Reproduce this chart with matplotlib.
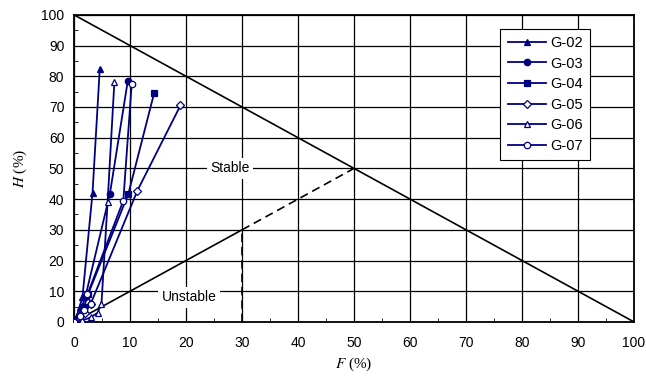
import matplotlib
matplotlib.use('Agg')
import matplotlib.pyplot as plt
from matplotlib.ticker import MultipleLocator

plt.rcParams['mathtext.fontset'] = 'stix'

# Datapunkter lest fra figuren (F %, H %)
g02_f = [0, 0.5, 1.0, 1.5, 3.3, 4.6]
g02_h = [0, 2, 5, 8, 42, 82.5]
g03_f = [0, 0.8, 1.4, 2.0, 6.4, 9.6]
g03_h = [0, 2, 5, 8, 41.7, 78.5]
g04_f = [0, 1.0, 1.8, 2.5, 9.7, 14.3]
g04_h = [0, 2, 5, 9, 41.7, 74.5]
g05_f = [0, 1.0, 2.0, 3.0, 11.3, 19.0]
g05_h = [0, 1, 3, 6, 42.7, 70.5]
g06_f = [0, 1.5, 3.0, 4.2, 4.9, 6.0, 7.2]
g06_h = [0, 0.5, 1.5, 3, 6, 39.2, 78.0]
g07_f = [0, 1.0, 1.8, 3.0, 2.4, 8.8, 10.3]
g07_h = [0, 2, 4, 6, 9, 39.5, 77.5]

series = [
    ("G-02", g02_f, g02_h, '^', 'navy'),
    ("G-03", g03_f, g03_h, 'o', 'navy'),
    ("G-04", g04_f, g04_h, 's', 'navy'),
    ("G-05", g05_f, g05_h, 'D', 'white'),
    ("G-06", g06_f, g06_h, '^', 'white'),
    ("G-07", g07_f, g07_h, 'o', 'white'),
]

# Grenselinjer
diag_x = [0, 100]
diag_y = [100, 0]
solid_x = [0, 30]
solid_y = [0, 30]
dash_x = [30, 50]
dash_y = [30, 50]
vert_x = [30, 30]
vert_y = [0, 30]

fig = plt.figure(figsize=(6.46, 3.81), dpi=100)
ax = fig.add_axes([0.1146, 0.155, 0.8669, 0.806])

ax.grid(True, which='major', color='black', linewidth=0.9)
ax.set_axisbelow(True)

ax.plot(diag_x, diag_y, color='black', linewidth=1.2, zorder=2)
ax.plot(solid_x, solid_y, color='black', linewidth=1.2, zorder=2)
ax.plot(dash_x, dash_y, color='black', linewidth=1.2, linestyle=(0, (5, 3)), zorder=2)
ax.plot(vert_x, vert_y, color='black', linewidth=1.2, linestyle=(0, (5, 3)), zorder=2)

for name, f, h, m, fc in series:
    ms = 3.8 if m == 'D' else 4.6
    ax.plot(f, h, marker=m, markersize=ms, color='navy', markerfacecolor=fc,
            markeredgecolor='navy', markeredgewidth=0.9, linewidth=1.3,
            label=name, zorder=4)

ax.text(27.8, 50, "Stable", fontsize=10, family='Liberation Sans', ha='center', va='center',
        bbox=dict(facecolor='white', edgecolor='none', pad=2.5), zorder=3)
ax.text(20.5, 8, "Unstable", fontsize=10, family='Liberation Sans', ha='center', va='center',
        bbox=dict(facecolor='white', edgecolor='none', pad=2.5), zorder=3)

ax.set_xlim(0, 100)
ax.set_ylim(0, 100)
ax.xaxis.set_major_locator(MultipleLocator(10))
ax.yaxis.set_major_locator(MultipleLocator(10))
ax.xaxis.set_minor_locator(MultipleLocator(5))
ax.yaxis.set_minor_locator(MultipleLocator(5))
ax.tick_params(which='both', direction='in', labelsize=10, pad=7)
ax.tick_params(axis='x', which='both', pad=10)
ax.tick_params(which='major', length=0)
ax.tick_params(which='minor', length=3)
for lab in ax.get_xticklabels() + ax.get_yticklabels():
    lab.set_family('Liberation Sans')
for sp in ax.spines.values():
    sp.set_linewidth(1.3)

ax.set_xlabel(r"$F$ (%)", family='Liberation Serif', fontsize=11, labelpad=4)
ax.set_ylabel(r"$H$ (%)", family='Liberation Serif', fontsize=11, labelpad=9)

leg = ax.legend(loc='upper right', bbox_to_anchor=(0.921, 0.955), prop={'family': 'Liberation Sans', 'size': 10.5},
                fancybox=False, edgecolor='black', framealpha=1, handlelength=2.6,
                handletextpad=0.3, labelspacing=0.45, borderpad=0.5, borderaxespad=0)
leg.get_frame().set_linewidth(0.8)

fig.savefig("out.png", dpi=100)
